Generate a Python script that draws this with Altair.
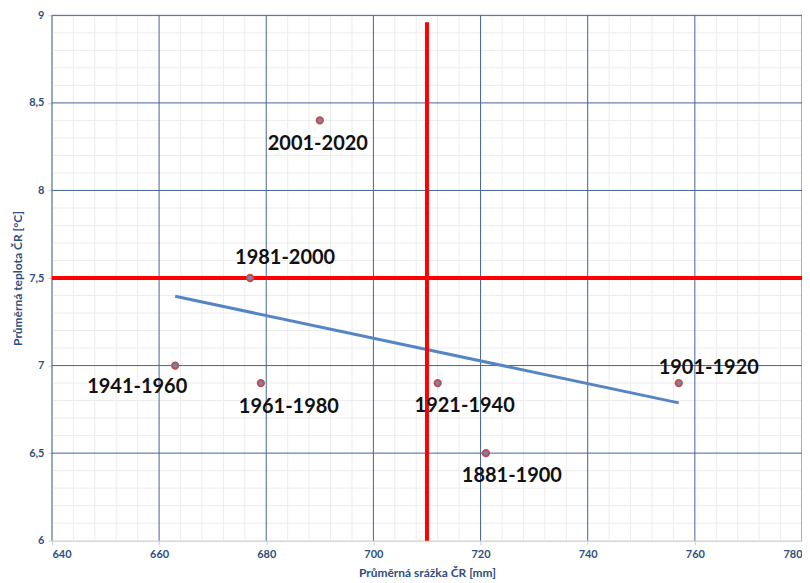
import altair as alt
import pandas as pd

# ---- data ----
periods = ["1881-1900", "1901-1920", "1921-1940", "1941-1960", "1961-1980", "1981-2000", "2001-2020"]
precip = [721, 757, 712, 663, 679, 677, 690]          # mm
temp = [6.5, 6.9, 6.9, 7.0, 6.9, 7.5, 8.4]            # °C

x_ticks = [640, 660, 680, 700, 720, 740, 760, 780]
y_ticks = [6, 6.5, 7, 7.5, 8, 8.5, 9]
x_minor = [v for v in range(640, 781, 4) if v % 20 != 0]
y_minor = [round(6 + 0.1 * i, 1) for i in range(31) if i % 5 != 0]

ref_precip = 710
ref_temp = 7.5
ref_line_top = 8.96

# label placement (pixel offsets from point), style only
label_offsets = {
    "2001-2020": (-2, 24),
    "1981-2000": (35, -20),
    "1941-1960": (-38, 21),
    "1961-1980": (28, 24),
    "1921-1940": (27, 23),
    "1881-1900": (26, 23),
    "1901-1920": (30, -15),
}

df = pd.DataFrame({"period": periods, "precip": precip, "temp": temp})

AXIS_COLOR = "#2F4F80"
MAJOR = "#42639A"
MINOR = "#ECECEC"

xs = alt.Scale(domain=[640, 780], nice=False, zero=False)
ys = alt.Scale(domain=[6, 9], nice=False, zero=False)

x_axis = alt.Axis(values=x_ticks, grid=False, domain=True, domainColor="#D0D0D0",
                  ticks=True, tickColor="#D0D0D0", tickSize=4,
                  labelFont="Lato", labelFontSize=11, labelFontWeight="bold", labelColor=AXIS_COLOR,
                  labelPadding=4, title="Průměrná srážka ČR [mm]", titleFont="Lato",
                  titleFontSize=12, titleFontWeight="bold", titleColor=AXIS_COLOR, titlePadding=8)
y_axis = alt.Axis(values=y_ticks, grid=False, domain=False,
                  ticks=True, tickColor="#D0D0D0", tickSize=4,
                  labelFont="Lato", labelFontSize=11, labelFontWeight="bold", labelColor=AXIS_COLOR,
                  labelPadding=4,
                  labelExpr="replace(format(datum.value, '.1~f'), '.', ',')",
                  title="Průměrná teplota ČR [°C]", titleFont="Lato",
                  titleFontSize=12, titleFontWeight="bold", titleColor=AXIS_COLOR, titlePadding=4)

minor_x = alt.Chart(pd.DataFrame({"v": x_minor})).mark_rule(color=MINOR, strokeWidth=1).encode(
    x=alt.X("v:Q", scale=xs, axis=x_axis))
minor_y = alt.Chart(pd.DataFrame({"v": y_minor})).mark_rule(color=MINOR, strokeWidth=1).encode(
    y=alt.Y("v:Q", scale=ys, axis=y_axis))
major_x = alt.Chart(pd.DataFrame({"v": x_ticks})).mark_rule(color=MAJOR, strokeWidth=1).encode(
    x=alt.X("v:Q", scale=xs))
major_y = alt.Chart(pd.DataFrame({"v": y_ticks[1:]})).mark_rule(color=MAJOR, strokeWidth=1).encode(
    y=alt.Y("v:Q", scale=ys))

trend = alt.Chart(df).transform_regression("precip", "temp").mark_line(
    color="#5585C5", strokeWidth=3).encode(
    x=alt.X("precip:Q", scale=xs), y=alt.Y("temp:Q", scale=ys))

vline = alt.Chart(pd.DataFrame({"x": [ref_precip], "y": [6], "y2": [ref_line_top]})).mark_rule(
    color="#FF0000", strokeWidth=4).encode(
    x=alt.X("x:Q", scale=xs), y=alt.Y("y:Q", scale=ys), y2="y2:Q")
hline = alt.Chart(pd.DataFrame({"y": [ref_temp], "x": [640], "x2": [780]})).mark_rule(
    color="#FF0000", strokeWidth=4).encode(
    y=alt.Y("y:Q", scale=ys), x=alt.X("x:Q", scale=xs), x2="x2:Q")

points = alt.Chart(df).mark_circle(size=40, fill="#7088B8", stroke="#C0504D",
                                   strokeWidth=2, opacity=1).encode(
    x=alt.X("precip:Q", scale=xs), y=alt.Y("temp:Q", scale=ys))

labels = []
for p in periods:
    dx, dy = label_offsets[p]
    labels.append(
        alt.Chart(df).transform_filter(alt.datum.period == p).mark_text(
            font="Lato", fontSize=20, fontWeight="bold", color="#111111",
            dx=dx, dy=dy, align="center", baseline="middle").encode(
            x=alt.X("precip:Q", scale=xs), y=alt.Y("temp:Q", scale=ys), text="period:N")
    )

chart = alt.layer(minor_x, minor_y, major_x, major_y, trend, vline, hline, points, *labels).properties(
    width=751, height=526,
    autosize=alt.AutoSizeParams(type="none"),
    padding={"left": 44, "top": 7, "right": 0, "bottom": 40},
).configure_view(stroke=None).configure(background="white")

chart.save("out.html", embed_options={"renderer": "svg", "actions": False})
